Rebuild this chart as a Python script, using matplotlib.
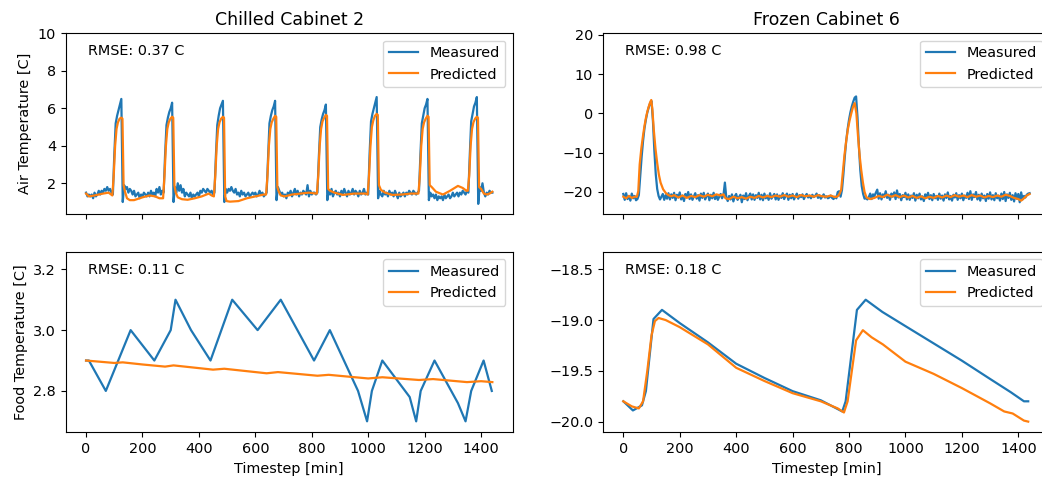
import numpy as np
import matplotlib
matplotlib.use("Agg")
import matplotlib.pyplot as plt

# ---------- DATA ----------

# measured air temperature, sampled every 5 min (one row = one hour)
time_5min = np.arange(0, 1441, 5)

chilled_air_measured = [
    1.5, 1.3, 1.4, 1.3, 1.4, 1.2, 1.5, 1.3, 1.4, 1.6, 1.4, 1.6,
    1.5, 1.7, 1.6, 1.8, 1.6, 1.7, 1.5, 1.4, 3.5, 5.2, 5.6, 5.9,
    6.2, 6.5, 1.0, 1.9, 1.7, 1.8, 1.5, 1.7, 1.6, 1.4, 1.6, 1.3,
    1.4, 1.5, 1.2, 1.4, 1.3, 1.5, 1.4, 1.3, 1.5, 1.3, 1.6, 1.4,
    1.5, 1.3, 1.7, 1.5, 1.8, 1.4, 1.6, 1.5, 3.5, 5.1, 5.5, 5.8,
    6.0, 6.3, 1.0, 1.8, 1.5, 2.0, 1.6, 1.9, 1.5, 1.7, 1.3, 1.5,
    1.4, 1.3, 1.5, 1.2, 1.4, 1.3, 1.4, 1.5, 1.3, 1.6, 1.5, 1.7,
    1.6, 1.5, 1.7, 1.6, 1.5, 1.6, 1.4, 1.5, 3.4, 5.1, 5.6, 6.0,
    6.2, 6.4, 1.0, 1.7, 1.5, 1.7, 1.6, 1.8, 1.6, 1.5, 1.7, 1.4,
    1.5, 1.3, 1.6, 1.4, 1.5, 1.3, 1.4, 1.5, 1.3, 1.4, 1.5, 1.4,
    1.5, 1.3, 1.4, 1.6, 1.4, 1.5, 1.3, 1.4, 1.5, 3.4, 5.2, 5.6,
    5.9, 6.1, 6.4, 1.1, 1.8, 1.6, 1.4, 1.5, 1.3, 1.4, 1.2, 1.5,
    1.4, 1.6, 1.3, 1.5, 1.7, 1.4, 1.6, 1.3, 1.5, 1.4, 1.6, 1.5,
    1.4, 1.9, 1.3, 1.6, 1.4, 1.5, 1.5, 1.4, 1.5, 3.4, 5.0, 5.4,
    5.7, 5.9, 6.2, 1.1, 1.6, 1.4, 1.7, 1.3, 1.5, 1.6, 1.4, 1.5,
    1.3, 1.6, 1.4, 1.7, 1.5, 1.3, 1.6, 1.4, 1.5, 1.7, 1.4, 1.6,
    1.5, 1.3, 1.6, 1.4, 1.5, 1.7, 1.4, 1.5, 1.4, 3.6, 5.3, 5.7,
    6.0, 6.3, 6.6, 1.2, 1.6, 1.4, 1.3, 1.6, 1.4, 1.5, 1.3, 1.6,
    1.4, 1.5, 1.3, 1.6, 1.4, 1.2, 1.5, 1.3, 1.4, 1.5, 1.3, 1.5,
    1.4, 1.6, 1.5, 1.4, 1.6, 1.5, 1.4, 1.5, 1.6, 3.5, 5.2, 5.6,
    6.0, 6.2, 6.5, 1.1, 1.5, 1.3, 1.4, 1.2, 1.4, 1.1, 1.3, 1.2,
    1.3, 1.1, 1.4, 1.2, 1.3, 1.4, 1.2, 1.3, 1.5, 1.3, 1.4, 1.5,
    1.3, 1.5, 1.4, 1.6, 1.5, 1.4, 1.6, 1.5, 3.5, 5.3, 5.7, 6.1,
    6.3, 6.6, 0.9, 1.8, 1.6, 2.0, 1.5, 1.3, 1.5, 1.4, 1.6, 1.5,
    1.5,
]

frozen_air_measured = [
    -20.5, -22.0, -20.3, -21.8, -21.0, -22.2, -20.4, -21.6, -21.0, -22.1, -21.8, -20.8,
    -16.0, -11.0, -7.0, -3.8, -1.6, 0.2, 1.5, 2.6, 3.1, -2.0, -9.5, -15.5,
    -19.2, -21.0, -21.9, -21.2, -20.5, -22.0, -20.8, -21.7, -20.3, -21.9, -20.6, -21.5,
    -20.2, -22.1, -20.7, -21.4, -20.1, -21.9, -20.9, -22.3, -20.5, -21.2, -20.0, -21.8,
    -20.6, -22.0, -21.1, -20.3, -21.7, -20.8, -22.2, -20.4, -21.5, -20.2, -21.9, -21.0,
    -20.4, -22.1, -20.7, -21.6, -20.2, -21.8, -20.9, -22.0, -21.2, -20.5, -21.6, -20.8,
    -17.6, -21.4, -22.3, -21.0, -21.9, -20.6, -22.4, -21.1, -20.5, -22.0, -21.3, -20.7,
    -22.6, -20.9, -21.8, -20.3, -22.1, -21.0, -20.4, -21.9, -20.6, -22.0, -20.8, -21.5,
    -20.2, -21.9, -20.7, -22.1, -20.4, -21.6, -20.9, -22.0, -20.3, -21.7, -21.1, -20.5,
    -21.9, -20.6, -22.0, -20.9, -21.5, -20.3, -21.8, -21.0, -20.4, -22.0, -20.7, -21.6,
    -20.5, -21.9, -21.1, -20.4, -21.7, -20.8, -21.3, -20.6, -21.8, -21.0, -20.5, -21.4,
    -20.9, -21.6, -20.7, -21.3, -21.0, -20.4, -21.5, -20.8, -21.7, -21.2, -20.6, -21.4,
    -21.1, -21.6, -21.4, -20.9, -21.5, -21.8, -21.2, -21.6, -20.0, -19.8, -21.2, -19.5,
    -15.5, -11.0, -7.0, -4.0, -1.6, 0.3, 1.8, 3.0, 4.0, 4.3, -1.0, -8.5,
    -14.5, -18.5, -20.5, -21.7, -21.6, -21.9, -21.3, -20.4, -21.8, -20.6, -21.0, -20.2,
    -19.4, -21.7, -20.3, -21.9, -20.6, -21.3, -19.8, -21.5, -20.7, -22.0, -20.4, -21.2,
    -20.1, -21.8, -19.6, -21.4, -20.5, -22.1, -20.8, -21.3, -20.2, -21.9, -20.6, -22.0,
    -20.9, -21.5, -20.3, -22.2, -20.7, -21.6, -20.4, -21.9, -21.1, -22.3, -20.6, -21.4,
    -20.2, -21.8, -20.8, -22.1, -20.5, -21.6, -21.0, -22.0, -20.4, -21.7, -20.9, -22.2,
    -20.6, -21.5, -20.1, -21.9, -21.0, -22.2, -20.7, -21.4, -20.3, -22.0, -20.8, -21.6,
    -20.4, -22.1, -20.9, -21.5, -20.2, -21.8, -19.8, -22.0, -20.6, -21.3, -20.0, -21.9,
    -20.7, -22.2, -20.4, -21.6, -20.9, -22.3, -20.5, -21.7, -20.1, -21.9, -20.8, -22.1,
    -20.3, -21.6, -20.9, -22.2, -20.4, -21.8, -20.0, -22.3, -20.6, -21.5, -20.2, -22.0,
    -20.8, -22.4, -20.3, -21.7, -20.5, -22.6, -20.1, -21.9, -21.0, -21.4, -20.7, -20.4,
    -20.3,
]

# predicted air temperature, (minute, value) points
chilled_air_predicted = [
    (0, 1.45), (10, 1.3), (30, 1.35), (60, 1.45), (80, 1.5), (93, 1.35),
    (98, 2.4), (103, 4.0), (108, 4.9), (113, 5.25), (119, 5.45), (125, 5.5),
    (129, 5.45), (133, 1.9), (138, 1.55), (145, 1.2), (155, 1.1), (170, 1.1), (200, 1.25),
    (225, 1.35), (245, 1.3), (260, 1.2), (273, 1.2),
    (278, 2.4), (283, 4.0), (288, 4.9), (293, 5.25), (299, 5.45), (305, 5.55),
    (309, 5.5), (313, 1.9), (318, 1.5), (325, 1.25), (340, 1.15), (360, 1.12), (385, 1.2),
    (410, 1.3), (435, 1.45), (445, 1.35), (453, 1.3),
    (458, 2.4), (463, 4.0), (468, 4.9), (473, 5.25), (479, 5.45), (485, 5.55),
    (489, 5.5), (493, 1.3), (498, 1.05), (510, 1.02), (540, 1.05), (570, 1.2), (600, 1.3),
    (630, 1.4), (638, 1.4),
    (643, 2.4), (648, 4.0), (653, 4.9), (658, 5.25), (664, 5.45), (670, 5.6),
    (674, 5.55), (678, 1.8), (683, 1.55), (690, 1.35), (705, 1.3), (730, 1.4), (760, 1.45),
    (790, 1.5), (815, 1.45), (818, 1.45),
    (823, 2.4), (828, 4.0), (833, 4.9), (838, 5.3), (844, 5.5), (850, 5.65),
    (854, 5.6), (858, 1.7), (865, 1.6), (880, 1.5), (910, 1.38), (950, 1.45), (990, 1.45),
    (998, 1.4),
    (1003, 2.4), (1008, 4.0), (1013, 5.0), (1018, 5.35), (1024, 5.6), (1030, 5.7),
    (1034, 5.65), (1038, 1.9), (1045, 1.65), (1060, 1.5), (1085, 1.38), (1120, 1.4),
    (1150, 1.45), (1178, 1.45),
    (1183, 2.4), (1188, 4.0), (1193, 4.9), (1198, 5.25), (1204, 5.45), (1210, 5.6),
    (1214, 5.55), (1218, 1.9), (1225, 1.8), (1240, 1.55), (1265, 1.4), (1290, 1.6),
    (1318, 1.86), (1335, 1.75), (1348, 1.6), (1353, 1.6),
    (1358, 2.4), (1363, 4.0), (1368, 4.9), (1373, 5.25), (1379, 5.45), (1385, 5.55),
    (1389, 5.5), (1393, 1.8), (1400, 1.7), (1410, 1.45), (1420, 1.4), (1430, 1.45),
    (1440, 1.55),
]

frozen_air_predicted = [
    (0, -21.2), (10, -21.6), (20, -21.0), (30, -21.5), (40, -21.2), (48, -21.2),
    (53, -19.8), (58, -13.0), (64, -8.8), (70, -5.6), (75, -3.2), (80, -1.2),
    (85, 0.4), (90, 1.7), (95, 2.8), (99, 3.4), (103, 1.0), (108, -4.2),
    (114, -9.0), (120, -12.6), (126, -15.6), (132, -17.6), (141, -19.3), (151, -20.3),
    (160, -20.8), (170, -21.1), (180, -20.8), (195, -21.4), (210, -20.9), (225, -21.5),
    (240, -21.0), (255, -21.3), (270, -20.8), (285, -21.2), (300, -20.7), (315, -21.1),
    (330, -20.6), (345, -20.9), (355, -20.6), (362, -21.6), (375, -21.8), (390, -21.2),
    (405, -21.6), (420, -21.3), (435, -21.7), (450, -21.2), (465, -21.5), (480, -21.0),
    (495, -21.4), (510, -21.0), (525, -21.3), (540, -20.9), (555, -21.2), (570, -20.8),
    (585, -21.2), (600, -20.9), (615, -21.3), (630, -20.8), (645, -21.1), (660, -20.9),
    (675, -21.2), (690, -20.8), (705, -21.1), (720, -21.2), (735, -20.9), (750, -21.3),
    (760, -21.1), (766, -20.5), (772, -19.5), (778, -15.0), (784, -10.5), (790, -7.0),
    (796, -4.0), (802, -1.8), (808, 0.0), (814, 1.6), (820, 2.6), (826, 0.0),
    (832, -6.0), (838, -11.0), (843, -14.3), (849, -17.5), (855, -20.0), (862, -21.4),
    (875, -21.8), (890, -21.5), (905, -21.0), (920, -21.3), (935, -20.7), (950, -21.2),
    (965, -20.8), (980, -21.3), (995, -20.9), (1010, -21.4), (1025, -21.0), (1040, -21.5),
    (1055, -21.1), (1070, -21.6), (1085, -21.2), (1100, -21.5), (1115, -21.0), (1130, -21.4),
    (1145, -20.9), (1160, -21.3), (1175, -20.8), (1190, -21.2), (1205, -20.9), (1220, -21.3),
    (1235, -20.8), (1250, -21.2), (1265, -20.9), (1280, -21.4), (1295, -21.0), (1310, -21.3),
    (1325, -20.9), (1340, -21.2), (1355, -20.7), (1370, -21.0), (1385, -21.5), (1400, -21.8),
    (1410, -22.2), (1420, -21.6), (1430, -20.9), (1440, -20.5),
]

# food temperature, (minute, value) points
chilled_food_measured = [
    (0, 2.9), (10, 2.9), (70, 2.8), (158, 3.0), (242, 2.9), (300, 3.0), (317, 3.1),
    (372, 3.0), (441, 2.9), (518, 3.1), (608, 3.0), (690, 3.1), (808, 2.9), (864, 3.0),
    (964, 2.8), (996, 2.7), (1013, 2.8), (1050, 2.9), (1147, 2.78), (1170, 2.7),
    (1186, 2.8), (1235, 2.9), (1318, 2.76), (1345, 2.7), (1365, 2.8), (1409, 2.9),
    (1438, 2.8),
]

chilled_food_predicted = [
    (0, 2.9), (100, 2.892), (130, 2.894), (200, 2.887), (280, 2.88), (310, 2.884),
    (450, 2.87), (490, 2.873), (640, 2.858), (680, 2.862), (820, 2.85), (860, 2.853),
    (1000, 2.841), (1050, 2.845), (1180, 2.836), (1230, 2.839), (1350, 2.829),
    (1400, 2.832), (1440, 2.829),
]

frozen_food_measured = [
    (0, -19.80), (34, -19.89), (66, -19.84), (80, -19.70), (107, -18.99), (137, -18.90),
    (200, -19.03), (300, -19.22), (400, -19.43), (500, -19.57), (600, -19.70),
    (700, -19.79), (776, -19.90), (788, -19.80), (828, -18.90), (859, -18.80),
    (918, -18.92), (1000, -19.06), (1100, -19.23), (1200, -19.40), (1300, -19.58),
    (1373, -19.71), (1420, -19.80), (1435, -19.80),
]

frozen_food_predicted = [
    (0, -19.80), (30, -19.85), (55, -19.87), (70, -19.80), (85, -19.50), (100, -19.15),
    (112, -19.01), (125, -18.98), (150, -19.00), (200, -19.07), (300, -19.24),
    (400, -19.47), (500, -19.60), (600, -19.72), (700, -19.80), (760, -19.87),
    (782, -19.91), (795, -19.80), (810, -19.50), (825, -19.20), (849, -19.10),
    (880, -19.17), (920, -19.24), (1000, -19.41), (1100, -19.53), (1200, -19.67),
    (1300, -19.82), (1350, -19.90), (1380, -19.92), (1420, -19.99), (1435, -20.00),
]

rmse_values = {"chilled_air": 0.37, "frozen_air": 0.98,
               "chilled_food": 0.11, "frozen_food": 0.18}

# ---------- PLOT ----------

plt.rcParams["font.size"] = 10.4


def draw_panel(ax, measured, predicted, rmse):
    if isinstance(measured[0], tuple):
        t, v = zip(*measured)
    else:
        t, v = time_5min, measured
    ax.plot(t, v, color="tab:blue", lw=1.6, label="Measured")
    tp, vp = zip(*predicted)
    ax.plot(tp, vp, color="tab:orange", lw=1.6, label="Predicted")
    ax.text(0.05, 0.9, f"RMSE: {rmse:.2f} C", transform=ax.transAxes, va="center")
    ax.legend(loc="upper right")
    ax.set_xlim(-72, 1512)
    ax.set_xticks(range(0, 1401, 200))


# right-hand panels run slightly past the picture edge, as in the source image
fig = plt.figure(figsize=(10.42, 4.83), dpi=100)
ax_ca = fig.add_axes([0.0631, 0.5569, 0.4289, 0.3741])
ax_fa = fig.add_axes([0.5787, 0.5569, 0.4289, 0.3741])
ax_cf = fig.add_axes([0.0631, 0.1050, 0.4289, 0.3733])
ax_ff = fig.add_axes([0.5787, 0.1050, 0.4289, 0.3733])

draw_panel(ax_ca, chilled_air_measured, chilled_air_predicted, rmse_values["chilled_air"])
draw_panel(ax_fa, frozen_air_measured, frozen_air_predicted, rmse_values["frozen_air"])
draw_panel(ax_cf, chilled_food_measured, chilled_food_predicted, rmse_values["chilled_food"])
draw_panel(ax_ff, frozen_food_measured, frozen_food_predicted, rmse_values["frozen_food"])

ax_ca.set_ylim(0.36, 10)
ax_fa.set_ylim(-25.6, 20.35)
ax_cf.set_ylim(2.664, 3.257)
ax_ff.set_ylim(-20.105, -18.33)
ax_cf.set_yticks([2.8, 3.0, 3.2])
ax_ff.set_yticks([-20.0, -19.5, -19.0, -18.5])

ax_ca.tick_params(labelbottom=False)
ax_fa.tick_params(labelbottom=False)

ax_ca.set_title("Chilled Cabinet 2", fontsize=12.5)
ax_fa.set_title("Frozen Cabinet 6", fontsize=12.5)
ax_ca.set_ylabel("Air Temperature [C]")
ax_cf.set_ylabel("Food Temperature [C]")
ax_cf.set_xlabel("Timestep [min]")
ax_ff.set_xlabel("Timestep [min]")

fig.savefig("out.png", dpi=100)
